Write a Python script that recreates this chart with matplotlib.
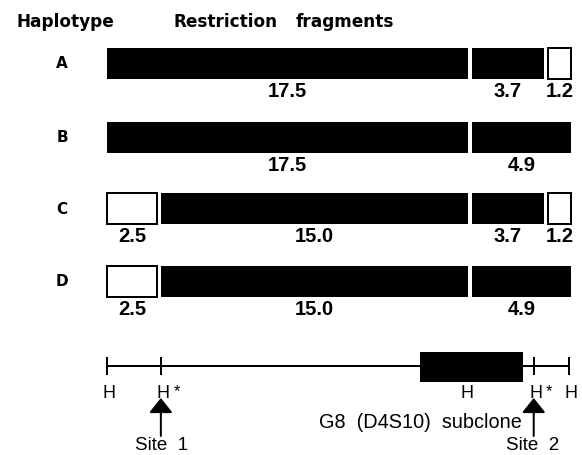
import matplotlib
matplotlib.use("Agg")
import matplotlib.pyplot as plt
from matplotlib.patches import Rectangle

# ---------------- data ----------------
haplotypes = ["A", "B", "C", "D"]
fragments_kb = [
    [17.5, 3.7, 1.2],
    [17.5, 4.9],
    [2.5, 15.0, 3.7, 1.2],
    [2.5, 15.0, 4.9],
]
fragment_filled = [
    [True, True, False],
    [True, True],
    [False, True, True, False],
    [False, True, True],
]
# restriction map (kb positions as drawn)
map_sites_kb = [0.0, 2.6, 17.3, 20.6, 22.3]
map_site_labels = ["H", "H*", "H", "H*", "H"]
map_site_ticks = [True, True, False, True, True]
subclone_kb = (15.1, 20.1)
subclone_label = "G8  (D4S10)  subclone"
polymorphic_sites = [(2.6, "Site  1"), (20.6, "Site  2")]

# ---------------- layout ----------------
W, H = 582, 455
x0_px, px_per_kb = 107.0, 464.0 / 22.4
row_centers = [63, 137, 208, 281]
half_h = 15.5
gap_kb = 4.0 / px_per_kb


def X(px):
    return (px - x0_px) / px_per_kb


fig = plt.figure(figsize=(W / 100, H / 100), dpi=100)
ax = fig.add_axes([0, 0, 1, 1])
ax.set_xlim(X(0), X(W))
ax.set_ylim(H, 0)
ax.axis("off")

lw = 1.44  # 2 px

hdr = dict(family="DejaVu Sans", fontweight="bold", fontsize=12.2, va="baseline", ha="left")
ax.text(X(16), 27, "Haplotype", **hdr)
ax.text(X(173), 27, "Restriction", **hdr)
ax.text(X(296), 27, "fragments", **hdr)

for name, yc, frs, fills in zip(haplotypes, row_centers, fragments_kb, fragment_filled):
    ax.text(X(62), yc + 5.5, name, family="DejaVu Sans", fontweight="bold",
            fontsize=11, ha="center", va="baseline")
    start = 0.0
    n = len(frs)
    for i, (f, filled) in enumerate(zip(frs, fills)):
        a = start + (gap_kb / 2 if i > 0 else 0)
        b = start + f - (gap_kb / 2 if i < n - 1 else 0)
        if filled:
            r = Rectangle((a, yc - half_h), b - a, 2 * half_h, facecolor="black",
                          edgecolor="none")
        else:
            r = Rectangle((a, yc - half_h), b - a, 2 * half_h, facecolor="white",
                          edgecolor="black", linewidth=lw)
        ax.add_patch(r)
        ax.text((a + b) / 2, yc + 34, f"{f:.1f}", family="Liberation Sans",
                fontweight="bold", fontsize=14.5, ha="center", va="baseline")
        start += f

# restriction map
map_y = 366
ax.plot([map_sites_kb[0], map_sites_kb[-1]], [map_y, map_y], color="black",
        linewidth=lw, solid_capstyle="butt", zorder=1)
for s, lab, tk in zip(map_sites_kb, map_site_labels, map_site_ticks):
    if tk:
        ax.plot([s, s], [map_y - 9, map_y + 9], color="black", linewidth=lw,
                solid_capstyle="butt", zorder=1)
    ax.text(s + 0.1, 398, "H", family="Liberation Sans", fontsize=13,
            ha="center", va="baseline")
    if lab.endswith("*"):
        ax.text(s + 0.6, 396, "*", family="Liberation Sans", fontsize=12,
                ha="left", va="baseline")

ax.add_patch(Rectangle((subclone_kb[0], 352), subclone_kb[1] - subclone_kb[0], 30,
                       facecolor="black", edgecolor="none", zorder=2))
ax.text(X(319), 428, subclone_label, family="Liberation Sans", fontsize=14.3,
        ha="left", va="baseline")

for s, lab in polymorphic_sites:
    ax.annotate("", xy=(s, 398), xytext=(s, 436),
                arrowprops=dict(arrowstyle="-|>,head_length=0.9,head_width=0.72",
                                mutation_scale=10, color="black", lw=lw,
                                shrinkA=0, shrinkB=0))
ax.text(X(135), 450, polymorphic_sites[0][1], family="Liberation Sans",
        fontsize=13.5, ha="left", va="baseline")
ax.text(X(506), 450, polymorphic_sites[1][1], family="Liberation Sans",
        fontsize=13.5, ha="left", va="baseline")

fig.savefig("out.png", dpi=100)
